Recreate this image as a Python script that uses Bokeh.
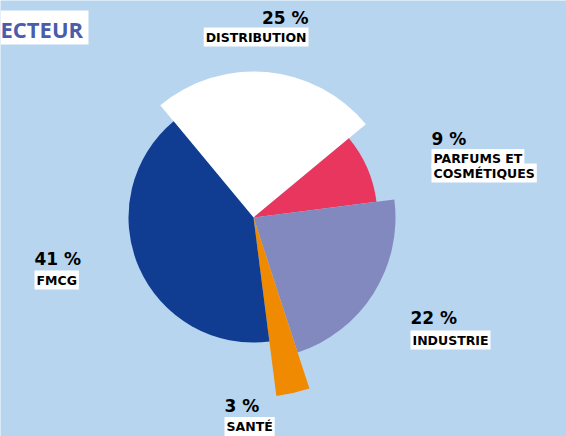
import numpy as np
from bokeh.plotting import figure
from bokeh.models import Range1d, ColumnDataSource
from bokeh.core.properties import value
from bokeh.embed import file_html
from bokeh.resources import INLINE

# ---- data ----
categories = ["DISTRIBUTION", "PARFUMS ET|COSMÉTIQUES", "INDUSTRIE", "SANTÉ", "FMCG"]
shares = [25, 9, 22, 3, 41]
pct_labels = ["25 %", "9 %", "22 %", "3 %", "41 %"]
title_text = "ECTEUR"

# ---- style ----
colors = ["#ffffff", "#e8365e", "#8289be", "#f08a00", "#103d91"]
slice_radius = [146, 124, 142, 180, 125]
start_deg = 129.7
BG = "#b8d5ef"
W, H = 566, 436
cx, cy = 253, H - 217

# label layout (image px): (x, y_pct, y_name_first, align)
label_pos = [(308, 17, 36.5, "right"),
             (431, 138.5, 158, "left"),
             (410, 317.5, 339.5, "left"),
             (224, 405, 426, "left"),
             (34, 258.5, 279.5, "left")]

frac = np.array(shares, dtype=float) / sum(shares)
span = frac * 2 * np.pi
ends = np.deg2rad(start_deg) - np.cumsum(span)
starts = ends + span

p = figure(width=W, height=H, output_backend="svg", toolbar_location=None,
           x_range=Range1d(0, W), y_range=Range1d(0, H), min_border=0)
p.axis.visible = False
p.grid.visible = False
p.outline_line_color = None
p.background_fill_color = BG
p.border_fill_color = BG

src = ColumnDataSource(dict(start=starts, end=ends, r=slice_radius, color=colors))
p.wedge(x=cx, y=cy, radius="r", start_angle="start", end_angle="end",
        direction="clock", fill_color="color", line_color=None, source=src)

px, py, pal = [], [], []
nx, ny, nt, nal = [], [], [], []
for cat, pct, (x, yp, yn, al) in zip(categories, pct_labels, label_pos):
    px.append(x); py.append(H - yp); pal.append(al)
    for i, line in enumerate(cat.split("|")):
        nx.append(x); ny.append(H - (yn + i * 14.5)); nt.append(line); nal.append(al)

p.text(x=px, y=py, text=pct_labels, text_align=pal, text_baseline="middle",
       text_font=value("DejaVu Sans"), text_font_style="bold",
       text_font_size="17px", text_color="#000000")
p.text(x=nx, y=ny, text=nt, text_align=nal, text_baseline="middle",
       text_font=value("DejaVu Sans"), text_font_style="bold",
       text_font_size="12.5px", text_color="#000000",
       background_fill_color="white", padding=2)

# title box
p.quad(left=[0], right=[88], top=[H - 10], bottom=[H - 44],
       fill_color="white", line_color=None)
p.text(x=[0], y=[H - 28], text=[title_text], text_align="left",
       text_baseline="middle", text_font=value("Open Sans"),
       text_font_style="bold", text_font_size="22px", text_color="#4a5daa")

html = file_html(p, INLINE)
open("out.html", "w").write(html)
